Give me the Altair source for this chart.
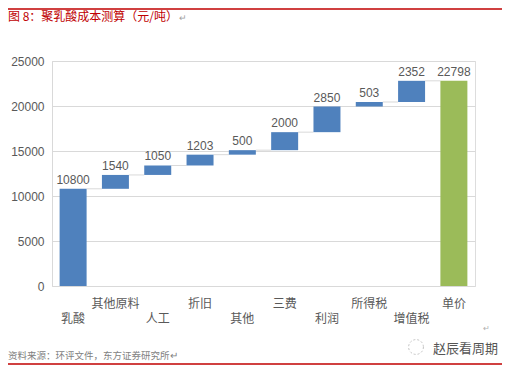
import altair as alt
import pandas as pd

cats = ["乳酸", "其他原料", "人工", "折旧", "其他", "三费", "利润", "所得税", "增值税", "单价"]
vals = [10800, 1540, 1050, 1203, 500, 2000, 2850, 503, 2352, 22798]
kinds = ["step"] * 9 + ["total"]
y_ticks = [0, 5000, 10000, 15000, 20000, 25000]

title_text = "图 8：聚乳酸成本测算（元/吨）"
source_text = "资料来源：环评文件，东方证券研究所"
mark_text_wm = "赵辰看周期"

# build waterfall table
rows = []
cum = 0
for i, (c, v, k) in enumerate(zip(cats, vals, kinds)):
    if k == "total":
        start, end = 0, v
    else:
        start, end = cum, cum + v
        cum = end
    rows.append({"cat": c, "start": start, "end": end, "val": v, "kind": k,
                 "row": "upper" if i % 2 == 1 else "lower"})
df = pd.DataFrame(rows)
conn = pd.DataFrame({"c1": cats[:-1], "c2": cats[1:], "lvl": [r["end"] for r in rows[:-1]]})

W, H = 423, 225
NUM_FONT = "Liberation Sans"
CJK_FONT = "Noto Sans CJK SC"
GRAY = "#595959"

xs = alt.Scale(domain=cats, paddingInner=0.362, paddingOuter=0.18)
ys = alt.Scale(domain=[0, 25000], nice=False)

base = alt.Chart(df)

connectors = alt.Chart(conn).mark_rule(color="#d9d9d9", strokeWidth=1, xOffset=13.5, x2Offset=-13.5).encode(
    x=alt.X("c1:N", scale=xs, axis=None),
    x2="c2:N",
    y=alt.Y("lvl:Q", scale=ys),
)

bars = base.mark_bar().encode(
    x=alt.X("cat:N", scale=xs, axis=None),
    y=alt.Y("start:Q", scale=ys, title=None,
            axis=alt.Axis(values=y_ticks, format="d", ticks=False, domainColor="#d9d9d9", gridColor="#d9d9d9",
                          labelColor=GRAY, labelFont=NUM_FONT, labelFontSize=12, labelPadding=8)),
    y2="end:Q",
    color=alt.Color("kind:N", scale=alt.Scale(domain=["step", "total"], range=["#4F81BD", "#9BBB59"]), legend=None),
)

vlabels = base.mark_text(baseline="bottom", dy=-2, fontSize=12, font=NUM_FONT, color=GRAY).encode(
    x=alt.X("cat:N", scale=xs, axis=None),
    y=alt.Y("end:Q", scale=ys),
    text="val:Q",
)

upper = alt.Chart(df[df["row"] == "upper"]).mark_text(fontSize=12, font=CJK_FONT, color=GRAY, baseline="middle").encode(
    x=alt.X("cat:N", scale=xs, axis=None), y=alt.value(H + 18), text="cat:N")
lower = alt.Chart(df[df["row"] == "lower"]).mark_text(fontSize=12, font=CJK_FONT, color=GRAY, baseline="middle").encode(
    x=alt.X("cat:N", scale=xs, axis=None), y=alt.value(H + 33), text="cat:N")

title = alt.Chart(pd.DataFrame({"t": [title_text]})).mark_text(
    align="left", baseline="middle", fontSize=12, font=CJK_FONT, color="#C00000").encode(
    x=alt.value(-44), y=alt.value(-44), text="t:N")
title_ret = alt.Chart(pd.DataFrame({"t": ["↵"]})).mark_text(
    align="left", baseline="middle", fontSize=9, font=CJK_FONT, color="#a0a0a0").encode(
    x=alt.value(127), y=alt.value(-43), text="t:N")

source = alt.Chart(pd.DataFrame({"t": [source_text + "↵"]})).mark_text(
    align="left", baseline="middle", fontSize=9.5, font=CJK_FONT, color="#7f7f7f").encode(
    x=alt.value(-44), y=alt.value(295), text="t:N")

wm = alt.Chart(pd.DataFrame({"t": [mark_text_wm]})).mark_text(
    align="left", baseline="middle", fontSize=13, font=CJK_FONT, color="#555555").encode(
    x=alt.value(381), y=alt.value(288), text="t:N")
wm_logo = alt.Chart(pd.DataFrame({"t": [1]})).mark_point(
    shape="circle", size=220, filled=False, color="#aaaaaa", strokeWidth=1, strokeDash=[2, 2]).encode(
    x=alt.value(364), y=alt.value(286))
small_ret = alt.Chart(pd.DataFrame({"t": ["↵"]})).mark_text(
    align="left", baseline="middle", fontSize=8, font=CJK_FONT, color="#b0b0b0").encode(
    x=alt.value(431), y=alt.value(268), text="t:N")

top_line = alt.Chart(pd.DataFrame({"t": [1]})).mark_rule(color="#C00000", strokeWidth=1.5).encode(
    x=alt.value(-44), x2=alt.value(450), y=alt.value(-52))
bot_line = alt.Chart(pd.DataFrame({"t": [1]})).mark_rule(color="#C00000", strokeWidth=1.5).encode(
    x=alt.value(-44), x2=alt.value(450), y=alt.value(303))

chart = alt.layer(
    connectors, bars, vlabels, upper, lower, title, title_ret, source, wm, wm_logo, small_ret, top_line, bot_line
).properties(
    width=W, height=H,
    autosize=alt.AutoSizeParams(type="none"),
    padding={"left": 44, "top": 53, "right": 27, "bottom": 80},
).configure_view(stroke=None).configure(background="white")

chart.save("out.html", embed_options={"renderer": "svg", "actions": False})
